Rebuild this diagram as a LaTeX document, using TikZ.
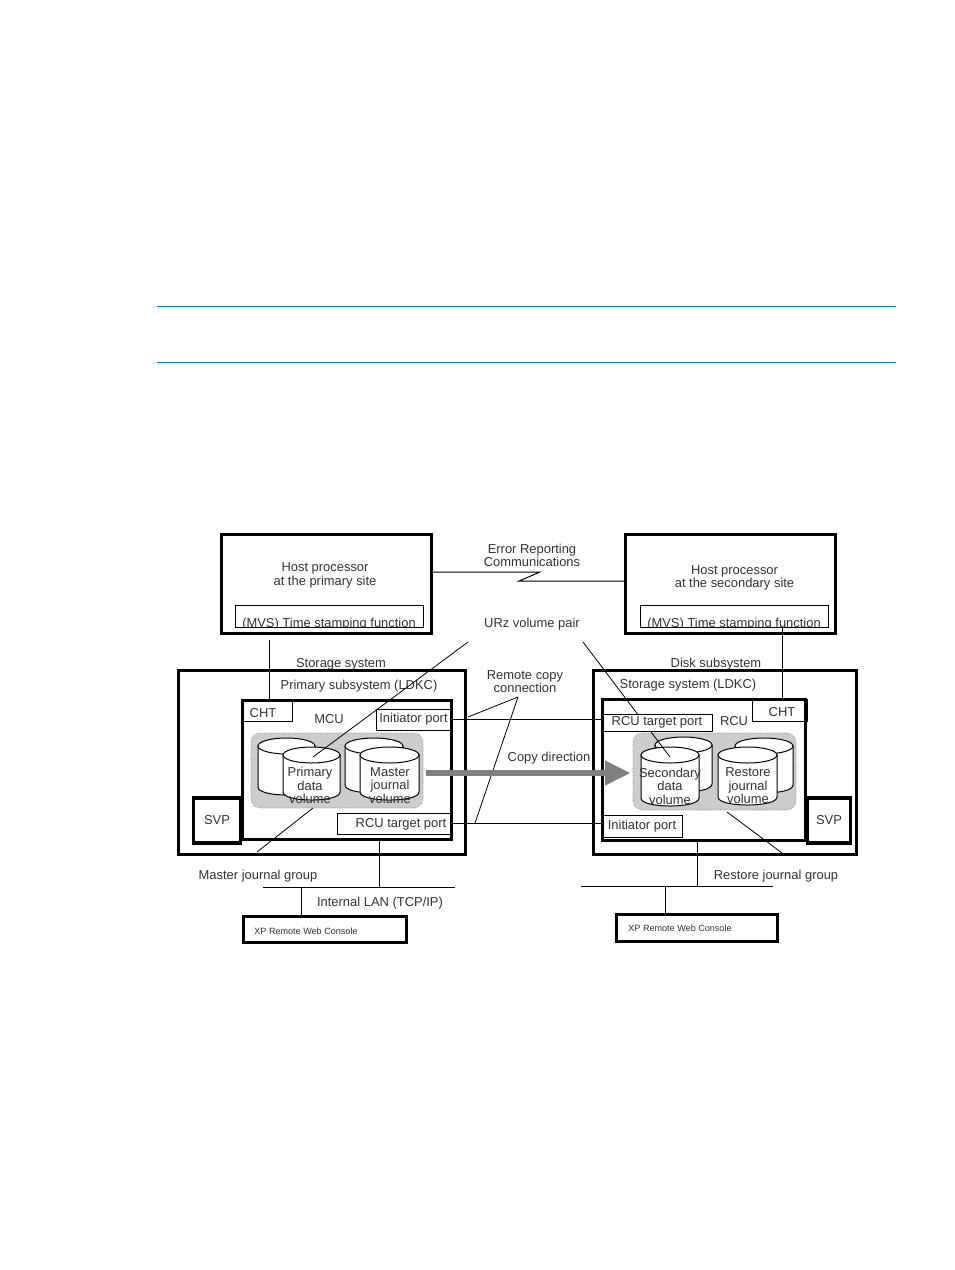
\documentclass[tikz,border=0pt]{standalone}
\usepackage{fontspec}
\setmainfont{Liberation Sans}
\usetikzlibrary{positioning,arrows.meta,shapes.geometric}
\definecolor{myrule}{RGB}{0,150,214}
\definecolor{mygroup}{RGB}{204,204,204}
\definecolor{myarrow}{RGB}{128,128,128}
\definecolor{mytext}{RGB}{50,50,50}
\def\px{0.75pt}

\begin{document}
\begin{tikzpicture}[x=0.75pt, y=-0.75pt, >=Stealth,
    lab/.style={inner sep=0pt, align=center, text=mytext, yshift=-1.5pt, font=\fontsize{9.7}{10.2}\selectfont},
    tiny/.style={inner sep=0pt, text=mytext, font=\fontsize{6.8}{8}\selectfont},
    heavybox/.style={draw, line width=2.4pt, inner sep=0pt, fill=none},
    thinbox/.style={draw, line width=0.75pt, inner sep=0pt},
    portbox/.style={thinbox, fill=white, lab},
    groupbox/.style={fill=mygroup, draw=black!60, densely dotted, thin, rounded corners=7pt, inner sep=0pt},
    drum/.style={draw, line width=0.75pt, fill=white},
    drumtop/.style={ellipse, draw, line width=0.75pt, fill=white, inner sep=0pt},
    leader/.style={line width=0.6pt},
    wire/.style={line width=0.75pt}]
  \useasboundingbox (0,0) rectangle (954,1270);
  % Rules above the figure
  \coordinate (ruleA) at (157,306);
  \coordinate (ruleB) at (896,306);
  \coordinate (ruleC) at (157,362);
  \coordinate (ruleD) at (896,362);
  \draw[myrule, line width=0.6pt] (ruleA) -- (ruleB);
  \draw[myrule, line width=0.6pt] (ruleC) -- (ruleD);
  % Texts that the frames cut
  \node[lab] (storageL) at (341,662) {Storage system};
  \node[lab] (storageR) at (716,662) {Disk subsystem};
  \node[lab] (ldkcL) at (359,684) {Primary subsystem (LDKC)};
  \node[lab] (ldkcR) at (688,683) {Storage system (LDKC)};
  % Hosts
  \node[heavybox, minimum width=210*\px, minimum height=99*\px] (hostL) at (326.5,584) {};
  \node[heavybox, minimum width=210*\px, minimum height=99*\px] (hostR) at (730.5,584) {};
  \node[lab] (hostLtext) at (325,573.5) {Host processor\\at the primary site};
  \node[lab] (hostRtext) at (734.5,576) {Host processor\\at the secondary site};
  \foreach \n/\x in {L/329,R/734}{
    \begin{scope}
      \clip (\x-100,600) rectangle (\x+100,627.5);
      \node[lab] (stamp\n) at (\x,622) {(MVS) Time stamping function};
    \end{scope}
  }
  \node[thinbox, minimum width=188*\px, minimum height=22*\px] (tsL) at (329,616) {};
  \node[thinbox, minimum width=188*\px, minimum height=22*\px] (tsR) at (734,616) {};
  % Subsystems
  \node[heavybox, minimum width=287*\px, minimum height=184*\px] (sysL) at (322,762.5) {};
  \node[heavybox, minimum width=263*\px, minimum height=184*\px] (sysR) at (725,762.5) {};
  \node[lab] (mcutext) at (329,717.5) {MCU};
  \node[lab] (rcutext) at (734,719.5) {RCU};
  % Journal groups and volumes
  \node[groupbox, minimum width=172*\px, minimum height=75*\px] (groupL) at (337,770.5) {};
  \node[groupbox, minimum width=163*\px, minimum height=77*\px] (groupR) at (714.5,771.5) {};
  \foreach \n/\xl/\xr/\yt/\yb in {primB/258/315/738/795, prim/283/340/747/800,
      mastB/345/403/738/793, mast/360/419/747/800,
      secB/655/712/737/792, sec/641/699/747/806,
      restB/735/793/738/793, rest/718/777/747/805}{
    \draw[drum] (\xl,\yt+8) -- (\xl,\yb-8) .. controls (\xl,\yb+2.7) and (\xr,\yb+2.7) .. (\xr,\yb-8) -- (\xr,\yt+8) -- cycle;
    \node[drumtop, minimum width={(\xr-\xl)*\px}, minimum height=16*\px] (\n) at ({(\xl+\xr)/2},\yt+8) {};
  }
  \node[lab] (primtext) at (310,783.5) {Primary\\data\\volume};
  \node[lab] (masttext) at (390,783.5) {Master\\journal\\volume};
  \node[lab] (sectext) at (670,784) {Secondary\\data\\volume};
  \node[lab] (resttext) at (748,784) {Restore\\journal\\volume};
  % Leaders
  \coordinate (pairL) at (468,642);
  \coordinate (pairLend) at (313,757);
  \coordinate (pairR) at (583,642);
  \coordinate (pairRend) at (670,757);
  \draw[leader] (pairL) -- (pairLend);
  \draw[leader] (pairR) -- (pairRend);
  \coordinate (mastgrpA) at (313,808);
  \coordinate (mastgrpB) at (257,852);
  \coordinate (restgrpA) at (727,812);
  \coordinate (restgrpB) at (782,853);
  \draw[leader] (mastgrpA) -- (mastgrpB);
  \draw[leader] (restgrpA) -- (restgrpB);
  % Ports
  \node[thinbox, fill=white, minimum width=51*\px, minimum height=22*\px] (chtL) at (266.5,710) {};
  \node[thinbox, fill=white, minimum width=55*\px, minimum height=22*\px] (chtR) at (779.5,710) {};
  \node[lab] (chtLtext) at (263,711) {CHT};
  \node[lab] (chtRtext) at (782,710) {CHT};
  \node[portbox, minimum width=75*\px, minimum height=21*\px] (initL) at (413.5,717.5) {Initiator port};
  \node[thinbox, fill=white, minimum width=114*\px, minimum height=21*\px] (tgtL) at (394,823.5) {};
  \node[lab] (tgtLtext) at (401,822) {RCU target port};
  \node[portbox, minimum width=110*\px, minimum height=17*\px] (tgtR) at (657,720.5) {RCU target port};
  \node[portbox, minimum width=80*\px, minimum height=22*\px] (initR) at (642,824) {Initiator port};
  % Frames of the controllers
  \node[heavybox, minimum width=209*\px, minimum height=139*\px] (mcu) at (347,770) {};
  \node[heavybox, minimum width=203*\px, minimum height=141*\px] (rcu) at (704,770) {};
  \node[heavybox, fill=white, minimum width=47.5*\px, minimum height=45*\px, lab] (svpL) at (217,818.5) {SVP};
  \node[heavybox, fill=white, minimum width=43.5*\px, minimum height=45*\px, lab] (svpR) at (829,818.5) {SVP};
  % Connections
  \coordinate (errA) at (540,572);
  \coordinate (errB) at (519,581);
  \draw[wire] (hostL.east |- errA) -- (errA) -- (errB) -- (hostR.west |- errB);
  \coordinate (hostLdrop) at (269,640);
  \draw[wire] (hostLdrop) -- (hostLdrop |- mcu.north);
  \coordinate (chtRtop) at (782,699);
  \draw[wire] (tsR.south -| chtRtop) -- (chtRtop);
  \draw[wire] (initL.east) -- (initL.east -| tgtR.west);
  \draw[wire] (tgtL.east) -- (tgtL.east -| initR.west);
  \coordinate (copyTip) at (518,697);
  \coordinate (copyA) at (468,717);
  \coordinate (copyB) at (475,823);
  \draw[leader] (copyTip) -- (copyA);
  \draw[leader] (copyTip) -- (copyB);
  % Copy direction
  \draw[-{Triangle[length=19pt,width=17.5pt]}, myarrow, line width=4.5pt, shorten <=4.5pt, shorten >=7.5pt] (mast.east |- 0,773) -- (sec.west |- 0,773);
  % LAN
  \node[heavybox, minimum width=163*\px, minimum height=26*\px] (webL) at (325,929.5) {};
  \node[heavybox, minimum width=161*\px, minimum height=27*\px] (webR) at (697,928) {};
  \node[tiny] (webLtext) at (306,931) {XP Remote Web Console};
  \node[tiny] (webRtext) at (680,928.5) {XP Remote Web Console};
  \coordinate (lanLa) at (263,887);
  \coordinate (lanLb) at (455,887);
  \coordinate (lanRa) at (581,886);
  \coordinate (lanRb) at (773,886);
  \coordinate (tapL) at (379,887);
  \coordinate (tapR) at (697,886);
  \coordinate (dropL) at (301,887);
  \coordinate (dropR) at (665,886);
  \draw[wire] (lanLa) -- (lanLb);
  \draw[wire] (lanRa) -- (lanRb);
  \draw[wire] (tapL |- mcu.south) -- (tapL);
  \draw[wire] (tapR |- rcu.south) -- (tapR);
  \draw[wire] (dropL) -- (dropL |- webL.north);
  \draw[wire] (dropR) -- (dropR |- webR.north);
  % Labels
  \node[lab] (errtext) at (532,553.5) {Error Reporting\\Communications};
  \node[lab] (pairtext) at (532,622.5) {URz volume pair};
  \node[lab] (rctext) at (525,679.5) {Remote copy\\connection};
  \node[lab] (copytext) at (549,756.5) {Copy direction};
  \node[lab] (mastgrp) at (258,874.5) {Master journal group};
  \node[lab] (restgrp) at (776,874.5) {Restore journal group};
  \node[lab] (lantext) at (380,901) {Internal LAN (TCP/IP)};
\end{tikzpicture}
\end{document}
